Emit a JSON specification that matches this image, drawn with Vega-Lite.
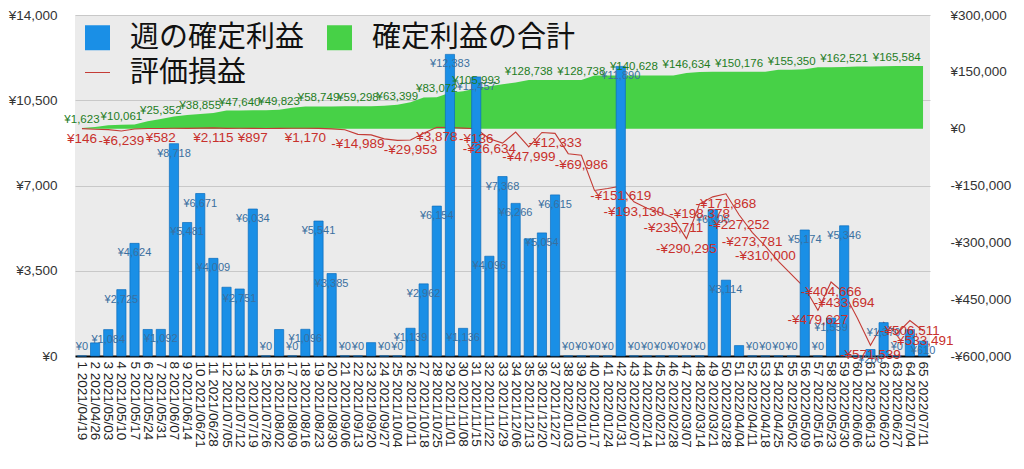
{
  "$schema": "https://vega.github.io/schema/vega-lite/v6.json",
  "width": 855,
  "height": 341,
  "autosize": {"type": "none"},
  "padding": {"left": 75, "top": 15, "right": 94, "bottom": 113},
  "background": "white",
  "config": {
    "locale": {"number": {"decimal": ".", "thousands": ",", "grouping": [3], "currency": ["¥", ""], "minus": "-"}},
    "view": {"fill": "#ebebeb", "stroke": null},
    "axis": {"labelFont": "Liberation Sans", "labelFontSize": 13.5, "labelColor": "#333333", "title": null, "ticks": false, "domain": false, "grid": false},
    "text": {"font": "Liberation Sans"}
  },
  "data": {"values": [
    {"w": "1 2021/04/19", "bar": 0, "bl": true, "cum": 1623, "cl": true, "pl": 146, "pll": true},
    {"w": "2 2021/04/26", "bar": 539, "bl": false, "cum": 4348, "cl": false, "pl": -1500, "pll": false},
    {"w": "3 2021/05/03", "bar": 1084, "bl": true, "cum": 8972, "cl": false, "pl": -2500, "pll": false},
    {"w": "4 2021/05/10", "bar": 2725, "bl": true, "cum": 10061, "cl": true, "pl": -6239, "pll": true},
    {"w": "5 2021/05/17", "bar": 4624, "bl": true, "cum": 11153, "cl": false, "pl": -1000, "pll": false},
    {"w": "6 2021/05/24", "bar": 1089, "bl": false, "cum": 19871, "cl": false, "pl": 300, "pll": false},
    {"w": "7 2021/05/31", "bar": 1092, "bl": true, "cum": 25352, "cl": true, "pl": 582, "pll": true},
    {"w": "8 2021/06/07", "bar": 8718, "bl": true, "cum": 32023, "cl": false, "pl": 1000, "pll": false},
    {"w": "9 2021/06/14", "bar": 5481, "bl": true, "cum": 36032, "cl": false, "pl": 800, "pll": false},
    {"w": "10 2021/06/21", "bar": 6671, "bl": true, "cum": 38855, "cl": true, "pl": 1500, "pll": false},
    {"w": "11 2021/06/28", "bar": 4009, "bl": true, "cum": 41606, "cl": false, "pl": 2115, "pll": true},
    {"w": "12 2021/07/05", "bar": 2823, "bl": false, "cum": 47640, "cl": false, "pl": 800, "pll": false},
    {"w": "13 2021/07/12", "bar": 2751, "bl": true, "cum": 47640, "cl": true, "pl": 1200, "pll": false},
    {"w": "14 2021/07/19", "bar": 6034, "bl": true, "cum": 48727, "cl": false, "pl": 897, "pll": true},
    {"w": "15 2021/07/26", "bar": 0, "bl": true, "cum": 48727, "cl": false, "pl": 500, "pll": false},
    {"w": "16 2021/08/02", "bar": 1087, "bl": false, "cum": 49823, "cl": true, "pl": 900, "pll": false},
    {"w": "17 2021/08/09", "bar": 0, "bl": true, "cum": 55364, "cl": false, "pl": 1000, "pll": false},
    {"w": "18 2021/08/16", "bar": 1096, "bl": true, "cum": 58749, "cl": false, "pl": 1170, "pll": true},
    {"w": "19 2021/08/23", "bar": 5541, "bl": true, "cum": 58749, "cl": true, "pl": 800, "pll": false},
    {"w": "20 2021/08/30", "bar": 3385, "bl": true, "cum": 58749, "cl": false, "pl": -500, "pll": false},
    {"w": "21 2021/09/06", "bar": 0, "bl": true, "cum": 59298, "cl": false, "pl": -3000, "pll": false},
    {"w": "22 2021/09/13", "bar": 0, "bl": true, "cum": 59298, "cl": true, "pl": -14989, "pll": true},
    {"w": "23 2021/09/20", "bar": 549, "bl": false, "cum": 59298, "cl": false, "pl": -16500, "pll": false},
    {"w": "24 2021/09/27", "bar": 0, "bl": true, "cum": 60437, "cl": false, "pl": -27000, "pll": false},
    {"w": "25 2021/10/04", "bar": 0, "bl": true, "cum": 63399, "cl": true, "pl": -31000, "pll": false},
    {"w": "26 2021/10/11", "bar": 1139, "bl": true, "cum": 69553, "cl": false, "pl": -29953, "pll": true},
    {"w": "27 2021/10/18", "bar": 2962, "bl": true, "cum": 81936, "cl": false, "pl": -12000, "pll": false},
    {"w": "28 2021/10/25", "bar": 6154, "bl": true, "cum": 83072, "cl": true, "pl": 3878, "pll": true},
    {"w": "29 2021/11/01", "bar": 12383, "bl": true, "cum": 94529, "cl": false, "pl": 3000, "pll": false},
    {"w": "30 2021/11/08", "bar": 1136, "bl": true, "cum": 98625, "cl": false, "pl": 1500, "pll": false},
    {"w": "31 2021/11/15", "bar": 11457, "bl": true, "cum": 105993, "cl": true, "pl": -136, "pll": true},
    {"w": "32 2021/11/22", "bar": 4096, "bl": true, "cum": 112259, "cl": false, "pl": -26634, "pll": true},
    {"w": "33 2021/11/29", "bar": 7368, "bl": true, "cum": 117069, "cl": false, "pl": -38000, "pll": false},
    {"w": "34 2021/12/06", "bar": 6266, "bl": true, "cum": 122123, "cl": false, "pl": -9000, "pll": false},
    {"w": "35 2021/12/13", "bar": 4810, "bl": false, "cum": 128738, "cl": true, "pl": -47999, "pll": true},
    {"w": "36 2021/12/20", "bar": 5054, "bl": true, "cum": 128738, "cl": false, "pl": -10000, "pll": false},
    {"w": "37 2021/12/27", "bar": 6615, "bl": true, "cum": 128738, "cl": false, "pl": -12333, "pll": true},
    {"w": "38 2022/01/03", "bar": 0, "bl": true, "cum": 128738, "cl": false, "pl": -66000, "pll": false},
    {"w": "39 2022/01/10", "bar": 0, "bl": true, "cum": 128738, "cl": true, "pl": -69986, "pll": true},
    {"w": "40 2022/01/17", "bar": 0, "bl": true, "cum": 140628, "cl": false, "pl": -163000, "pll": false},
    {"w": "41 2022/01/24", "bar": 0, "bl": true, "cum": 140628, "cl": false, "pl": -158000, "pll": false},
    {"w": "42 2022/01/31", "bar": 11890, "bl": true, "cum": 140628, "cl": false, "pl": -151619, "pll": true},
    {"w": "43 2022/02/07", "bar": 0, "bl": true, "cum": 140628, "cl": true, "pl": -193130, "pll": true},
    {"w": "44 2022/02/14", "bar": 0, "bl": true, "cum": 140628, "cl": false, "pl": -210000, "pll": false},
    {"w": "45 2022/02/21", "bar": 0, "bl": true, "cum": 140628, "cl": false, "pl": -221000, "pll": false},
    {"w": "46 2022/02/28", "bar": 0, "bl": true, "cum": 140628, "cl": false, "pl": -235711, "pll": true},
    {"w": "47 2022/03/07", "bar": 0, "bl": true, "cum": 146634, "cl": true, "pl": -290295, "pll": true},
    {"w": "48 2022/03/14", "bar": 0, "bl": true, "cum": 149748, "cl": false, "pl": -198378, "pll": true},
    {"w": "49 2022/03/21", "bar": 6006, "bl": true, "cum": 150176, "cl": false, "pl": -180000, "pll": false},
    {"w": "50 2022/03/28", "bar": 3114, "bl": true, "cum": 150176, "cl": false, "pl": -171868, "pll": true},
    {"w": "51 2022/04/04", "bar": 428, "bl": false, "cum": 150176, "cl": true, "pl": -227252, "pll": true},
    {"w": "52 2022/04/11", "bar": 0, "bl": true, "cum": 150176, "cl": false, "pl": -273781, "pll": true},
    {"w": "53 2022/04/18", "bar": 0, "bl": true, "cum": 150176, "cl": false, "pl": -310000, "pll": true},
    {"w": "54 2022/04/25", "bar": 0, "bl": true, "cum": 155350, "cl": false, "pl": -350000, "pll": false},
    {"w": "55 2022/05/02", "bar": 0, "bl": true, "cum": 155350, "cl": true, "pl": -385000, "pll": false},
    {"w": "56 2022/05/09", "bar": 5174, "bl": true, "cum": 156909, "cl": false, "pl": -420000, "pll": false},
    {"w": "57 2022/05/16", "bar": 0, "bl": true, "cum": 162255, "cl": false, "pl": -479627, "pll": true},
    {"w": "58 2022/05/23", "bar": 1559, "bl": true, "cum": 162255, "cl": false, "pl": -404666, "pll": true},
    {"w": "59 2022/05/30", "bar": 5346, "bl": true, "cum": 162521, "cl": true, "pl": -433694, "pll": true},
    {"w": "60 2022/06/06", "bar": 0, "bl": false, "cum": 163891, "cl": false, "pl": -500000, "pll": false},
    {"w": "61 2022/06/13", "bar": 266, "bl": true, "cum": 163891, "cl": false, "pl": -571539, "pll": true},
    {"w": "62 2022/06/20", "bar": 1370, "bl": true, "cum": 164974, "cl": false, "pl": -511000, "pll": false},
    {"w": "63 2022/06/27", "bar": 0, "bl": true, "cum": 165584, "cl": true, "pl": -541000, "pll": false},
    {"w": "64 2022/07/04", "bar": 1083, "bl": false, "cum": 165584, "cl": false, "pl": -506511, "pll": true},
    {"w": "65 2022/07/11", "bar": 610, "bl": true, "cum": 165584, "cl": false, "pl": -533491, "pll": true}
  ]},
  "encoding": {
    "x": {
      "field": "w", "type": "ordinal", "sort": null,
      "scale": {"paddingInner": 0.3, "paddingOuter": 0.18},
      "axis": {"labelAngle": 90, "labelOverlap": false, "domain": true, "domainColor": "#000000", "domainWidth": 2, "labelFontSize": 13.5, "labelPadding": 5, "labelColor": "#222222", "labelBound": false}
    }
  },
  "layer": [
    {
      "layer": [
        {
          "mark": {"type": "area", "interpolate": "linear"},
          "encoding": {
            "y": {"field": "cum", "type": "quantitative", "scale": {"domain": [-600000, 300000]},
                  "axis": {"orient": "right", "values": [-600000, -450000, -300000, -150000, 0, 150000, 300000], "format": "$,.0f", "labelPadding": 20}},
            "y2": {"datum": 0},
            "fill": {"datum": "確定利益の合計", "type": "nominal",
                     "scale": {"domain": ["週の確定利益", "確定利益の合計"], "range": ["#1a8fe6", "#47d147"]},
                     "legend": {"orient": "top-left", "offset": 8, "columns": 2, "title": null, "symbolType": "square", "symbolSize": 625, "symbolStrokeWidth": 0, "labelFont": "Noto Sans CJK JP", "labelFontSize": 29, "labelColor": "#111111", "labelLimit": 400, "labelOffset": 18, "columnPadding": 20, "rowPadding": 4}}
          }
        },
        {
          "mark": {"type": "line", "strokeWidth": 1.1},
          "encoding": {
            "y": {"field": "pl", "type": "quantitative"},
            "stroke": {"datum": "評価損益", "type": "nominal",
                       "scale": {"domain": ["評価損益"], "range": ["#c43c36"]},
                       "legend": {"orient": "none", "legendX": 8, "legendY": 43, "title": null, "symbolType": "stroke", "symbolSize": 625, "symbolStrokeWidth": 1, "labelFont": "Noto Sans CJK JP", "labelFontSize": 29, "labelColor": "#111111", "labelLimit": 400, "labelOffset": 18}}
          }
        }
      ]
    },
    {
      "layer": [
        {
          "mark": {"type": "bar", "stroke": "#0c6dbd", "strokeWidth": 0.7},
          "encoding": {
            "y": {"field": "bar", "type": "quantitative", "scale": {"domain": [0, 14000]},
                  "axis": {"orient": "left", "values": [0, 3500, 7000, 10500, 14000], "format": "$,.0f", "grid": true, "gridColor": "#c8c8c8", "gridWidth": 1, "labelPadding": 18}},
            "fill": {"datum": "週の確定利益", "type": "nominal",
                     "scale": {"domain": ["週の確定利益", "確定利益の合計"], "range": ["#1a8fe6", "#47d147"]}}
          }
        },
        {
          "transform": [{"filter": "datum.bl && datum.bar > 0"}],
          "mark": {"type": "text", "baseline": "top", "dy": 4, "fontSize": 11, "color": "#3a6f9f"},
          "encoding": {
            "y": {"field": "bar", "type": "quantitative"},
            "text": {"field": "bar", "type": "quantitative", "format": "$,.0f"}
          }
        },
        {
          "transform": [{"filter": "datum.bl && datum.bar == 0"}],
          "mark": {"type": "text", "baseline": "middle", "dy": -9, "fontSize": 11, "color": "#3a6f9f"},
          "encoding": {
            "y": {"field": "bar", "type": "quantitative"},
            "text": {"field": "bar", "type": "quantitative", "format": "$,.0f"}
          }
        }
      ]
    },
    {
      "layer": [
        {
          "transform": [{"filter": "datum.cl"}],
          "mark": {"type": "text", "baseline": "middle", "dy": -8, "fontSize": 11.5, "color": "#1e7d1e"},
          "encoding": {
            "y": {"field": "cum", "type": "quantitative", "scale": {"domain": [-600000, 300000]}, "axis": null},
            "text": {"field": "cum", "type": "quantitative", "format": "$,.0f"}
          }
        },
        {
          "transform": [{"filter": "datum.pll"}],
          "mark": {"type": "text", "baseline": "middle", "dy": 10, "fontSize": 13.5, "color": "#c8302c"},
          "encoding": {
            "y": {"field": "pl", "type": "quantitative"},
            "text": {"field": "pl", "type": "quantitative", "format": "$,.0f"}
          }
        }
      ]
    }
  ],
  "resolve": {"scale": {"y": "independent"}}
}
